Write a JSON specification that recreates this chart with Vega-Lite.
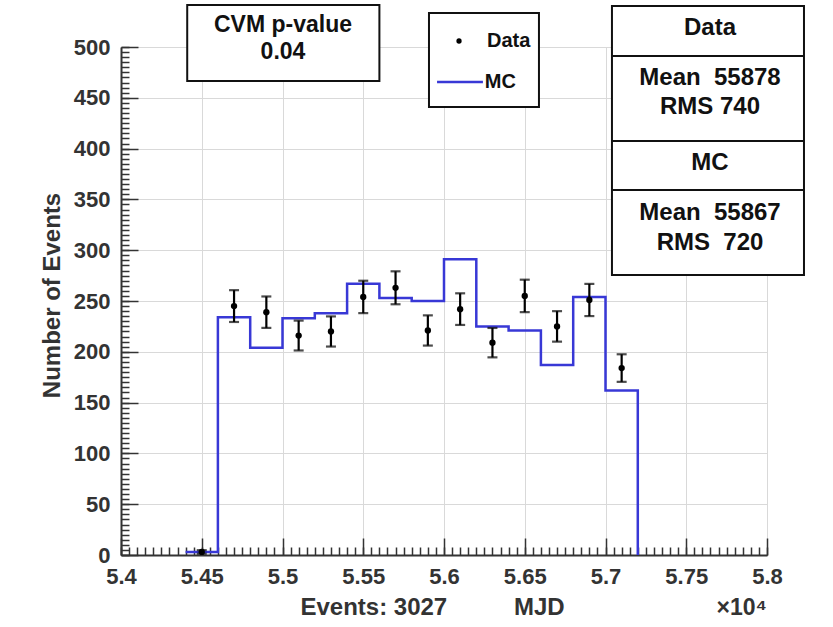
{
  "$schema": "https://vega.github.io/schema/vega-lite/v6.json",
  "width": 646,
  "height": 508,
  "autosize": {"type": "none"},
  "padding": {"left": 121, "top": 47, "right": 66, "bottom": 72},
  "background": "white",
  "config": {"view": {"stroke": null}, "font": "Liberation Sans"},
  "title": {"text": "×10⁴", "orient": "bottom", "anchor": "end", "frame": "group", "fontSize": 23, "fontWeight": "bold", "font": "Liberation Sans", "color": "#333", "offset": -22},
  "datasets": {
    "data": [
      {"mjd": 54500, "n": 3, "err": 1.73},
      {"mjd": 54700, "n": 245, "err": 15.65},
      {"mjd": 54900, "n": 239, "err": 15.46},
      {"mjd": 55100, "n": 216, "err": 14.7},
      {"mjd": 55300, "n": 220, "err": 14.83},
      {"mjd": 55500, "n": 254, "err": 15.94},
      {"mjd": 55700, "n": 263, "err": 16.22},
      {"mjd": 55900, "n": 221, "err": 14.87},
      {"mjd": 56100, "n": 242, "err": 15.56},
      {"mjd": 56300, "n": 209, "err": 14.46},
      {"mjd": 56500, "n": 255, "err": 15.97},
      {"mjd": 56700, "n": 225, "err": 15.0},
      {"mjd": 56900, "n": 251, "err": 15.84},
      {"mjd": 57100, "n": 184, "err": 13.56}
    ],
    "mc": [
      {"edge": 54400, "mc": 3},
      {"edge": 54600, "mc": 234},
      {"edge": 54800, "mc": 204},
      {"edge": 55000, "mc": 233},
      {"edge": 55200, "mc": 238},
      {"edge": 55400, "mc": 267},
      {"edge": 55600, "mc": 253},
      {"edge": 55800, "mc": 250},
      {"edge": 56000, "mc": 291},
      {"edge": 56200, "mc": 225},
      {"edge": 56400, "mc": 221},
      {"edge": 56600, "mc": 187},
      {"edge": 56800, "mc": 254},
      {"edge": 57000, "mc": 162},
      {"edge": 57200, "mc": 0}
    ],
    "one": [{}]
  },
  "layer": [
    {
      "data": {"name": "mc"},
      "mark": {"type": "line", "interpolate": "step-after", "color": "#3838d6", "strokeWidth": 2.5},
      "encoding": {
        "x": {"field": "edge", "type": "quantitative",
          "scale": {"domain": [54000, 58000], "nice": false, "zero": false},
          "axis": {"orient": "bottom", "values": [54000, 54500, 55000, 55500, 56000, 56500, 57000, 57500, 58000],
            "labelExpr": "'' + (datum.value / 10000)",
            "tickSize": -17, "tickWidth": 1.5, "tickColor": "#333",
            "domainColor": "#333", "domainWidth": 2,
            "grid": true, "gridColor": "#d9d9d9", "gridWidth": 1,
            "labelFont": "Liberation Sans", "labelFontWeight": "bold", "labelFontSize": 22, "labelColor": "#333",
            "labelPadding": 28, "labelFlush": false, "labelOverlap": false,
            "title": "Events: 3027\u00a0\u00a0\u00a0\u00a0\u00a0\u00a0\u00a0\u00a0\u00a0\u00a0MJD",
            "titleFont": "Liberation Sans", "titleFontWeight": "bold", "titleFontSize": 24, "titleColor": "#333",
            "titlePadding": 8, "titleX": 311, "titleAlign": "center"}},
        "y": {"field": "mc", "type": "quantitative",
          "scale": {"domain": [0, 500], "nice": false, "zero": false},
          "axis": {"orient": "left", "values": [0, 50, 100, 150, 200, 250, 300, 350, 400, 450, 500],
            "tickSize": -17, "tickWidth": 1.5, "tickColor": "#333",
            "domainColor": "#333", "domainWidth": 2,
            "grid": true, "gridColor": "#d9d9d9", "gridWidth": 1,
            "labelFont": "Liberation Sans", "labelFontWeight": "bold", "labelFontSize": 22, "labelColor": "#333",
            "labelPadding": 28, "labelFlush": false, "labelOverlap": false,
            "title": "Number of Events",
            "titleFont": "Liberation Sans", "titleFontWeight": "bold", "titleFontSize": 24, "titleColor": "#333",
            "titlePadding": 9, "titleY": 248, "titleAlign": "center"}}
      }
    },
    {
      "data": {"name": "data"},
      "mark": {"type": "errorbar", "ticks": true, "size": 10, "thickness": 2.2, "color": "black"},
      "encoding": {
        "x": {"field": "mjd", "type": "quantitative", "axis": null},
        "y": {"field": "n", "type": "quantitative", "axis": null},
        "yError": {"field": "err"}
      }
    },
    {
      "data": {"name": "data"},
      "mark": {"type": "circle", "size": 40, "color": "black", "opacity": 1},
      "encoding": {
        "x": {"field": "mjd", "type": "quantitative",
          "axis": {"orient": "bottom", "values": [54000,54050,54100,54150,54200,54250,54300,54350,54400,54450,54500,54550,54600,54650,54700,54750,54800,54850,54900,54950,55000,55050,55100,55150,55200,55250,55300,55350,55400,55450,55500,55550,55600,55650,55700,55750,55800,55850,55900,55950,56000,56050,56100,56150,56200,56250,56300,56350,56400,56450,56500,56550,56600,56650,56700,56750,56800,56850,56900,56950,57000,57050,57100,57150,57200,57250,57300,57350,57400,57450,57500,57550,57600,57650,57700,57750,57800,57850,57900,57950,58000],
            "tickSize": -8, "tickWidth": 1.5, "tickColor": "#333", "labels": false, "grid": false, "domain": false, "title": null}},
        "y": {"field": "n", "type": "quantitative",
          "axis": {"orient": "left", "values": [0,5,10,15,20,25,30,35,40,45,50,55,60,65,70,75,80,85,90,95,100,105,110,115,120,125,130,135,140,145,150,155,160,165,170,175,180,185,190,195,200,205,210,215,220,225,230,235,240,245,250,255,260,265,270,275,280,285,290,295,300,305,310,315,320,325,330,335,340,345,350,355,360,365,370,375,380,385,390,395,400,405,410,415,420,425,430,435,440,445,450,455,460,465,470,475,480,485,490,495,500],
            "tickSize": -8, "tickWidth": 1.5, "tickColor": "#333", "labels": false, "grid": false, "domain": false, "title": null}}
      }
    },
    {
      "data": {"name": "one"},
      "mark": {"type": "rect", "fill": "white", "stroke": "#111", "strokeWidth": 2},
      "encoding": {
        "x": {"datum": 54410, "type": "quantitative", "axis": null}, "x2": {"datum": 55600},
        "y": {"datum": 541.3, "type": "quantitative", "axis": null}, "y2": {"datum": 466.5}
      }
    },
    {
      "data": {"name": "one"},
      "mark": {"type": "text", "text": ["CVM p-value", "0.04"], "lineHeight": 27, "baseline": "middle", "align": "center", "font": "Liberation Sans", "fontWeight": "bold", "fontSize": 23, "color": "#111"},
      "encoding": {
        "x": {"datum": 55003, "type": "quantitative", "axis": null},
        "y": {"datum": 522.1, "type": "quantitative", "axis": null}
      }
    },
    {
      "data": {"name": "one"},
      "mark": {"type": "rect", "fill": "white", "stroke": "#111", "strokeWidth": 2},
      "encoding": {
        "x": {"datum": 55907, "type": "quantitative", "axis": null}, "x2": {"datum": 56588},
        "y": {"datum": 533.5, "type": "quantitative", "axis": null}, "y2": {"datum": 441}
      }
    },
    {
      "data": {"name": "one"},
      "mark": {"type": "circle", "size": 28, "color": "black", "opacity": 1},
      "encoding": {
        "x": {"datum": 56093, "type": "quantitative", "axis": null},
        "y": {"datum": 505.9, "type": "quantitative", "axis": null}
      }
    },
    {
      "data": {"name": "one"},
      "mark": {"type": "text", "text": "Data", "baseline": "middle", "align": "left", "font": "Liberation Sans", "fontWeight": "bold", "fontSize": 20, "color": "#111"},
      "encoding": {
        "x": {"datum": 56266, "type": "quantitative", "axis": null},
        "y": {"datum": 505.9, "type": "quantitative", "axis": null}
      }
    },
    {
      "data": {"name": "one"},
      "mark": {"type": "rule", "color": "#3838d6", "strokeWidth": 2.5},
      "encoding": {
        "x": {"datum": 55957, "type": "quantitative", "axis": null}, "x2": {"datum": 56241},
        "y": {"datum": 465.6, "type": "quantitative", "axis": null}
      }
    },
    {
      "data": {"name": "one"},
      "mark": {"type": "text", "text": "MC", "baseline": "middle", "align": "left", "font": "Liberation Sans", "fontWeight": "bold", "fontSize": 20, "color": "#111"},
      "encoding": {
        "x": {"datum": 56253, "type": "quantitative", "axis": null},
        "y": {"datum": 465.6, "type": "quantitative", "axis": null}
      }
    },
    {
      "data": {"name": "one"},
      "mark": {"type": "rect", "fill": "white", "stroke": "#111", "strokeWidth": 2},
      "encoding": {
        "x": {"datum": 57040, "type": "quantitative", "axis": null}, "x2": {"datum": 58229},
        "y": {"datum": 540.4, "type": "quantitative", "axis": null}, "y2": {"datum": 275.6}
      }
    },
    {
      "data": {"name": "one"},
      "mark": {"type": "rule", "color": "#111", "strokeWidth": 2},
      "encoding": {
        "x": {"datum": 57040, "type": "quantitative", "axis": null}, "x2": {"datum": 58229},
        "y": {"datum": 491.1, "type": "quantitative", "axis": null}
      }
    },
    {
      "data": {"name": "one"},
      "mark": {"type": "rule", "color": "#111", "strokeWidth": 2},
      "encoding": {
        "x": {"datum": 57040, "type": "quantitative", "axis": null}, "x2": {"datum": 58229},
        "y": {"datum": 407.5, "type": "quantitative", "axis": null}
      }
    },
    {
      "data": {"name": "one"},
      "mark": {"type": "rule", "color": "#111", "strokeWidth": 2},
      "encoding": {
        "x": {"datum": 57040, "type": "quantitative", "axis": null}, "x2": {"datum": 58229},
        "y": {"datum": 359.3, "type": "quantitative", "axis": null}
      }
    },
    {
      "data": {"name": "one"},
      "mark": {"type": "text", "text": "Data", "baseline": "middle", "align": "center", "font": "Liberation Sans", "fontWeight": "bold", "fontSize": 24, "color": "#111"},
      "encoding": {
        "x": {"datum": 57647, "type": "quantitative", "axis": null},
        "y": {"datum": 518.7, "type": "quantitative", "axis": null}
      }
    },
    {
      "data": {"name": "one"},
      "mark": {"type": "text", "text": ["Mean\u00a0\u00a055878", "RMS 740"], "lineHeight": 29, "baseline": "middle", "align": "center", "font": "Liberation Sans", "fontWeight": "bold", "fontSize": 24, "color": "#111"},
      "encoding": {
        "x": {"datum": 57647, "type": "quantitative", "axis": null},
        "y": {"datum": 469.5, "type": "quantitative", "axis": null}
      }
    },
    {
      "data": {"name": "one"},
      "mark": {"type": "text", "text": "MC", "baseline": "middle", "align": "center", "font": "Liberation Sans", "fontWeight": "bold", "fontSize": 24, "color": "#111"},
      "encoding": {
        "x": {"datum": 57647, "type": "quantitative", "axis": null},
        "y": {"datum": 385.8, "type": "quantitative", "axis": null}
      }
    },
    {
      "data": {"name": "one"},
      "mark": {"type": "text", "text": ["Mean\u00a0\u00a055867", "RMS\u00a0\u00a0720"], "lineHeight": 30, "baseline": "middle", "align": "center", "font": "Liberation Sans", "fontWeight": "bold", "fontSize": 24, "color": "#111"},
      "encoding": {
        "x": {"datum": 57647, "type": "quantitative", "axis": null},
        "y": {"datum": 337.1, "type": "quantitative", "axis": null}
      }
    }
  ],
  "resolve": {"axis": {"x": "independent", "y": "independent"}}
}
